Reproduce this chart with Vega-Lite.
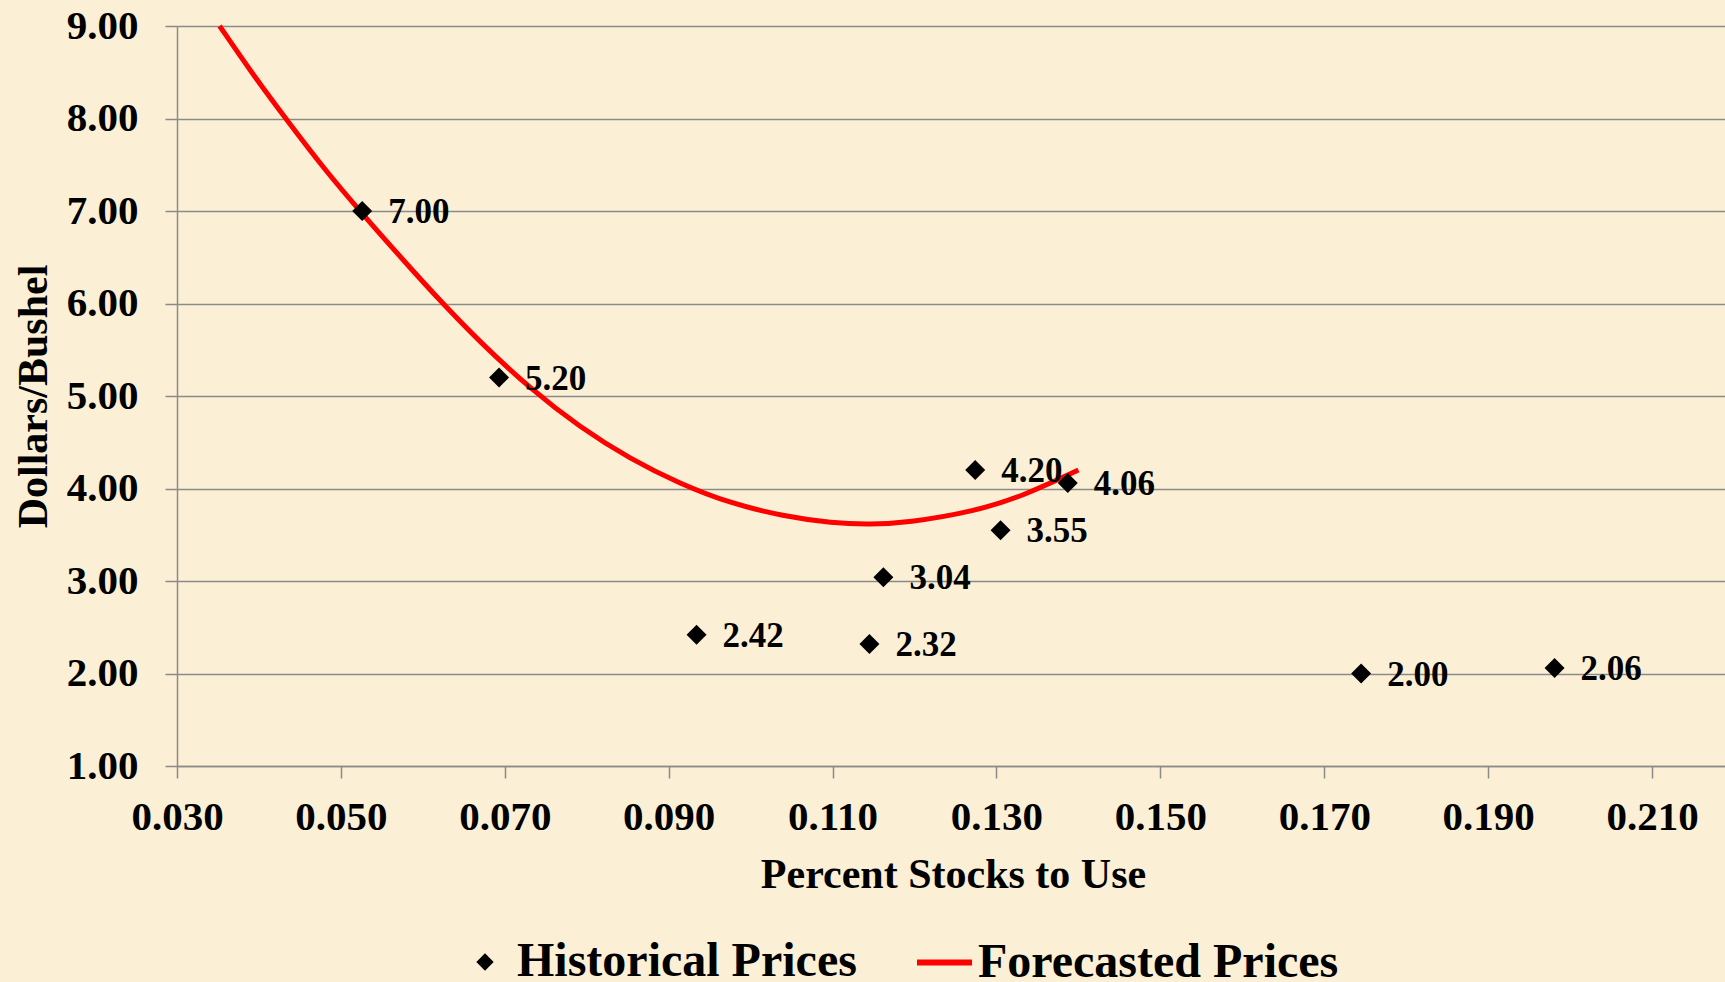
{
  "$schema": "https://vega.github.io/schema/vega-lite/v6.json",
  "autosize": {"type": "none"},
  "padding": {"left": 177, "top": 26, "right": 0, "bottom": 216},
  "width": 1548,
  "height": 740,
  "background": "#FBF0D5",
  "config": {
    "view": {"stroke": null},
    "font": "Liberation Serif",
    "axis": {
      "labelFont": "Liberation Serif",
      "labelFontWeight": "bold",
      "labelFontSize": 41,
      "labelColor": "#000000",
      "titleFont": "Liberation Serif",
      "titleFontWeight": "bold",
      "titleFontSize": 42,
      "titleColor": "#000000",
      "domainColor": "#8a8a8a",
      "domainWidth": 1.5,
      "tickColor": "#8a8a8a",
      "tickWidth": 1.5,
      "tickSize": 12,
      "gridColor": "#8a8a8a",
      "gridWidth": 1.5,
      "gridOpacity": 1
    },
    "legend": {
      "labelFont": "Liberation Serif",
      "labelFontWeight": "bold",
      "labelFontSize": 48,
      "labelColor": "#000000",
      "labelLimit": 0,
      "padding": 0
    }
  },
  "datasets": {
    "historical": [
      {"stocks": 0.0526, "price": 7.00, "series": "Historical Prices"},
      {"stocks": 0.0693, "price": 5.20, "series": "Historical Prices"},
      {"stocks": 0.0934, "price": 2.42, "series": "Historical Prices"},
      {"stocks": 0.1145, "price": 2.32, "series": "Historical Prices"},
      {"stocks": 0.1162, "price": 3.04, "series": "Historical Prices"},
      {"stocks": 0.1274, "price": 4.20, "series": "Historical Prices"},
      {"stocks": 0.1305, "price": 3.55, "series": "Historical Prices"},
      {"stocks": 0.1387, "price": 4.06, "series": "Historical Prices"},
      {"stocks": 0.1745, "price": 2.00, "series": "Historical Prices"},
      {"stocks": 0.1981, "price": 2.06, "series": "Historical Prices"}
    ],
    "forecast": [
      {"stocks": 0.0352, "price": 9.00, "series": "Forecasted Prices"},
      {"stocks": 0.0393, "price": 8.47, "series": "Forecasted Prices"},
      {"stocks": 0.0436, "price": 7.96, "series": "Forecasted Prices"},
      {"stocks": 0.0479, "price": 7.46, "series": "Forecasted Prices"},
      {"stocks": 0.0526, "price": 6.97, "series": "Forecasted Prices"},
      {"stocks": 0.0577, "price": 6.46, "series": "Forecasted Prices"},
      {"stocks": 0.0621, "price": 6.03, "series": "Forecasted Prices"},
      {"stocks": 0.0670, "price": 5.58, "series": "Forecasted Prices"},
      {"stocks": 0.0731, "price": 5.08, "series": "Forecasted Prices"},
      {"stocks": 0.0792, "price": 4.66, "series": "Forecasted Prices"},
      {"stocks": 0.0853, "price": 4.32, "series": "Forecasted Prices"},
      {"stocks": 0.0914, "price": 4.05, "series": "Forecasted Prices"},
      {"stocks": 0.0975, "price": 3.84, "series": "Forecasted Prices"},
      {"stocks": 0.1040, "price": 3.70, "series": "Forecasted Prices"},
      {"stocks": 0.1100, "price": 3.625, "series": "Forecasted Prices"},
      {"stocks": 0.1145, "price": 3.61, "series": "Forecasted Prices"},
      {"stocks": 0.1191, "price": 3.63, "series": "Forecasted Prices"},
      {"stocks": 0.1272, "price": 3.75, "series": "Forecasted Prices"},
      {"stocks": 0.1333, "price": 3.92, "series": "Forecasted Prices"},
      {"stocks": 0.1400, "price": 4.20, "series": "Forecasted Prices"}
    ]
  },
  "encoding": {
    "x": {
      "field": "stocks",
      "type": "quantitative",
      "scale": {"domain": [0.03, 0.2189], "nice": false, "zero": false},
      "axis": {
        "title": "Percent Stocks to Use",
        "values": [0.03, 0.05, 0.07, 0.09, 0.11, 0.13, 0.15, 0.17, 0.19, 0.21],
        "format": ".3f",
        "grid": false,
        "labelBaseline": "alphabetic",
        "labelPadding": 51,
        "labelFlush": false,
        "labelOverlap": false,
        "titleBaseline": "alphabetic",
        "titleX": 776,
        "titleY": 121,
        "titleAnchor": "middle",
        "titleAlign": "center"
      }
    },
    "y": {
      "field": "price",
      "type": "quantitative",
      "scale": {"domain": [1, 9], "nice": false, "zero": false},
      "axis": {
        "title": "Dollars/Bushel",
        "values": [1, 2, 3, 4, 5, 6, 7, 8, 9],
        "format": ".2f",
        "grid": true,
        "labelPadding": 27,
        "labelBaseline": "middle",
        "labelFlush": false,
        "labelOverlap": false,
        "titleAngle": -90,
        "titleBaseline": "alphabetic",
        "titleAlign": "center",
        "titleX": -131,
        "titleY": 370
      }
    }
  },
  "layer": [
    {
      "data": {"name": "forecast"},
      "mark": {"type": "line", "strokeWidth": 5, "interpolate": "basis"},
      "encoding": {
        "color": {
          "field": "series",
          "type": "nominal",
          "scale": {"domain": ["Forecasted Prices"], "range": ["#FF0000"]},
          "legend": {
            "title": null,
            "orient": "none",
            "legendX": 737,
            "legendY": 906,
            "symbolType": "stroke",
            "symbolSize": 3025,
            "symbolStrokeWidth": 6,
            "labelOffset": 3
          }
        }
      }
    },
    {
      "data": {"name": "historical"},
      "mark": {"type": "point", "filled": true, "color": "#000000", "size": 400, "opacity": 1},
      "encoding": {
        "shape": {
          "field": "series",
          "type": "nominal",
          "scale": {"domain": ["Historical Prices"], "range": ["diamond"]},
          "legend": {
            "title": null,
            "orient": "none",
            "legendX": 284,
            "legendY": 912,
            "symbolSize": 300,
            "symbolFillColor": "#000000",
            "symbolStrokeColor": "#000000",
            "symbolOpacity": 1,
            "labelOffset": 8
          }
        }
      }
    },
    {
      "data": {"name": "historical"},
      "mark": {
        "type": "text",
        "align": "left",
        "baseline": "middle",
        "dx": 26,
        "dy": 1,
        "font": "Liberation Serif",
        "fontWeight": "bold",
        "fontSize": 35,
        "color": "#000000"
      },
      "encoding": {
        "text": {"field": "price", "type": "quantitative", "format": ".2f"}
      }
    }
  ]
}
